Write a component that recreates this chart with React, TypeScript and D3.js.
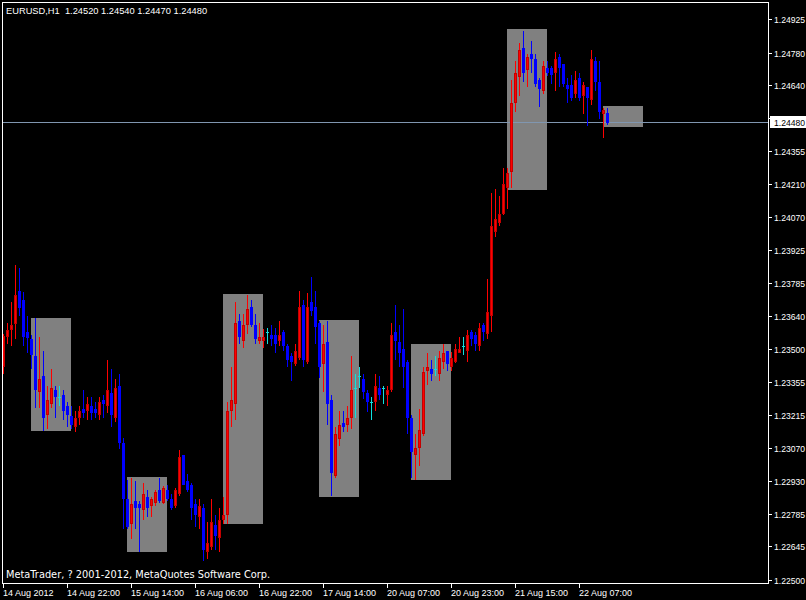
import * as React from "react";
import * as d3 from "d3";

// EURUSD H1 bars, 14 Aug 2012 06:00 onwards
const opens = [
  1.23425, 1.23554, 1.23585, 1.23611, 1.23749, 1.23710, 1.23572, 1.23541, 1.23468, 1.23317,
  1.23382, 1.23217, 1.23265, 1.23321, 1.23291, 1.23300, 1.23252, 1.23209, 1.23166, 1.23205,
  1.23239, 1.23235, 1.23252, 1.23239, 1.23217, 1.23278, 1.23256, 1.23308, 1.23205, 1.23338,
  1.23092, 1.22850, 1.22747, 1.22842, 1.22829, 1.22807, 1.22859, 1.22824, 1.22837, 1.22889,
  1.22837, 1.22889, 1.22850, 1.22824, 1.22876, 1.23040, 1.22928, 1.22911, 1.22829, 1.22777,
  1.22811, 1.22626, 1.22647, 1.22738, 1.22686, 1.22764, 1.22785, 1.23235, 1.23265, 1.23619,
  1.23537, 1.23606, 1.23680, 1.23602, 1.23537, 1.23537, 1.23572, 1.23559, 1.23559, 1.23537,
  1.23572, 1.23511, 1.23468, 1.23438, 1.23464, 1.23688, 1.23446, 1.23701, 1.23680, 1.23611,
  1.23438, 1.23528, 1.23278, 1.22954, 1.23114, 1.23179, 1.23174, 1.23205, 1.23330, 1.23382,
  1.23369, 1.23308, 1.23269, 1.23274, 1.23330, 1.23330, 1.23304, 1.23325, 1.23572, 1.23528,
  1.23498, 1.23442, 1.23200, 1.23045, 1.23075, 1.23135, 1.23408, 1.23412, 1.23412, 1.23395,
  1.23446, 1.23490, 1.23425, 1.23446, 1.23485, 1.23511, 1.23494, 1.23572, 1.23559, 1.23515,
  1.23602, 1.23567, 1.23645, 1.24008, 1.24047, 1.24086, 1.24198, 1.24268, 1.24566, 1.24679,
  1.24800, 1.24709, 1.24774, 1.24752, 1.24661, 1.24618, 1.24713, 1.24713, 1.24696, 1.24761,
  1.24730, 1.24640, 1.24640, 1.24605, 1.24670, 1.24597, 1.24631, 1.24579, 1.24743, 1.24653,
  1.24519, 1.24520,
];
const highs = [
  1.23563, 1.23611, 1.23701, 1.23861, 1.23848, 1.23745, 1.23641, 1.23559, 1.23632, 1.23550,
  1.23490, 1.23338, 1.23412, 1.23338, 1.23338, 1.23321, 1.23269, 1.23252, 1.23230, 1.23252,
  1.23321, 1.23291, 1.23291, 1.23269, 1.23291, 1.23300, 1.23451, 1.23412, 1.23369, 1.23390,
  1.23114, 1.22932, 1.22941, 1.22928, 1.22842, 1.22919, 1.22889, 1.22859, 1.22889, 1.22941,
  1.22906, 1.22911, 1.22872, 1.22898, 1.23062, 1.23040, 1.22958, 1.22919, 1.22850, 1.22850,
  1.22829, 1.22751, 1.22850, 1.22781, 1.22811, 1.22859, 1.23269, 1.23421, 1.23701, 1.23649,
  1.23649, 1.23732, 1.23710, 1.23649, 1.23611, 1.23585, 1.23589, 1.23602, 1.23589, 1.23619,
  1.23580, 1.23520, 1.23481, 1.23520, 1.23749, 1.23710, 1.23740, 1.23809, 1.23749, 1.23619,
  1.23602, 1.23619, 1.23300, 1.23161, 1.23230, 1.23230, 1.23252, 1.23468, 1.23390, 1.23421,
  1.23390, 1.23321, 1.23291, 1.23390, 1.23382, 1.23338, 1.23338, 1.23611, 1.23688, 1.23602,
  1.23671, 1.23451, 1.23213, 1.23131, 1.23239, 1.23421, 1.23481, 1.23451, 1.23468, 1.23490,
  1.23520, 1.23490, 1.23485, 1.23520, 1.23550, 1.23550, 1.23580, 1.23580, 1.23572, 1.23611,
  1.23611, 1.23801, 1.24172, 1.24190, 1.24159, 1.24281, 1.24281, 1.24661, 1.24743, 1.24821,
  1.24873, 1.24774, 1.24830, 1.24774, 1.24670, 1.24743, 1.24743, 1.24722, 1.24782, 1.24774,
  1.24730, 1.24670, 1.24683, 1.24700, 1.24692, 1.24653, 1.24631, 1.24791, 1.24761, 1.24743,
  1.24540, 1.24540,
];
const lows = [
  1.23395, 1.23524, 1.23515, 1.23546, 1.23645, 1.23515, 1.23485, 1.23416, 1.23248, 1.23248,
  1.23148, 1.23157, 1.23248, 1.23205, 1.23256, 1.23196, 1.23166, 1.23157, 1.23144, 1.23174,
  1.23205, 1.23196, 1.23196, 1.23205, 1.23196, 1.23205, 1.23226, 1.23166, 1.23187, 1.23071,
  1.22725, 1.22725, 1.22682, 1.22725, 1.22626, 1.22764, 1.22777, 1.22777, 1.22824, 1.22837,
  1.22833, 1.22846, 1.22807, 1.22816, 1.22868, 1.22915, 1.22885, 1.22764, 1.22734, 1.22725,
  1.22587, 1.22595, 1.22634, 1.22634, 1.22626, 1.22747, 1.22747, 1.23166, 1.23196, 1.23524,
  1.23507, 1.23567, 1.23598, 1.23524, 1.23524, 1.23507, 1.23524, 1.23515, 1.23485, 1.23515,
  1.23494, 1.23425, 1.23364, 1.23429, 1.23455, 1.23425, 1.23438, 1.23645, 1.23524, 1.23377,
  1.23317, 1.23174, 1.22868, 1.22945, 1.23084, 1.23144, 1.23144, 1.23157, 1.23205, 1.23334,
  1.23287, 1.23230, 1.23196, 1.23235, 1.23282, 1.23265, 1.23256, 1.23317, 1.23455, 1.23425,
  1.23334, 1.23135, 1.22945, 1.22936, 1.22997, 1.23127, 1.23347, 1.23364, 1.23386, 1.23364,
  1.23416, 1.23408, 1.23408, 1.23442, 1.23485, 1.23477, 1.23446, 1.23515, 1.23494, 1.23494,
  1.23537, 1.23546, 1.23576, 1.23986, 1.24034, 1.24082, 1.24107, 1.24198, 1.24527, 1.24597,
  1.24657, 1.24635, 1.24696, 1.24635, 1.24549, 1.24605, 1.24683, 1.24648, 1.24618, 1.24635,
  1.24635, 1.24566, 1.24575, 1.24588, 1.24575, 1.24519, 1.24467, 1.24558, 1.24618, 1.24497,
  1.24415, 1.24470,
];
const closes = [
  1.23554, 1.23580, 1.23602, 1.23732, 1.23680, 1.23554, 1.23550, 1.23477, 1.23325, 1.23369,
  1.23205, 1.23278, 1.23330, 1.23295, 1.23291, 1.23235, 1.23217, 1.23174, 1.23200, 1.23230,
  1.23226, 1.23261, 1.23226, 1.23226, 1.23269, 1.23265, 1.23321, 1.23217, 1.23330, 1.23097,
  1.22855, 1.22734, 1.22829, 1.22816, 1.22816, 1.22872, 1.22816, 1.22850, 1.22881, 1.22846,
  1.22898, 1.22855, 1.22816, 1.22889, 1.23032, 1.22915, 1.22894, 1.22816, 1.22785, 1.22820,
  1.22634, 1.22660, 1.22751, 1.22695, 1.22760, 1.22781, 1.23230, 1.23278, 1.23611, 1.23554,
  1.23602, 1.23671, 1.23606, 1.23546, 1.23550, 1.23550, 1.23572, 1.23546, 1.23524, 1.23559,
  1.23515, 1.23455, 1.23446, 1.23490, 1.23680, 1.23455, 1.23680, 1.23667, 1.23598, 1.23425,
  1.23520, 1.23265, 1.22967, 1.23131, 1.23170, 1.23166, 1.23200, 1.23321, 1.23330, 1.23382,
  1.23317, 1.23274, 1.23269, 1.23338, 1.23304, 1.23330, 1.23321, 1.23559, 1.23537, 1.23485,
  1.23425, 1.23205, 1.23058, 1.23071, 1.23148, 1.23399, 1.23421, 1.23395, 1.23412, 1.23459,
  1.23481, 1.23438, 1.23459, 1.23498, 1.23498, 1.23511, 1.23559, 1.23546, 1.23524, 1.23589,
  1.23576, 1.23658, 1.24030, 1.24060, 1.24082, 1.24211, 1.24260, 1.24562, 1.24692, 1.24791,
  1.24696, 1.24761, 1.24756, 1.24648, 1.24627, 1.24722, 1.24696, 1.24687, 1.24752, 1.24718,
  1.24648, 1.24627, 1.24588, 1.24661, 1.24588, 1.24640, 1.24588, 1.24752, 1.24657, 1.24527,
  1.24532, 1.24480,
];

// session boxes: [start bar, end bar, high, low]
const boxStart = [7, 31, 55, 79, 102, 126, 150];
const boxEnd = [17, 41, 65, 89, 112, 136, 160];
const boxHigh = [1.23632, 1.22945, 1.23736, 1.23624, 1.23520, 1.24882, 1.24549];
const boxLow = [1.23144, 1.22621, 1.22743, 1.22859, 1.22932, 1.24186, 1.24458];

const priceLabels = [
  "1.24925", "1.24780", "1.24640", "1.24495", "1.24355", "1.24210", "1.24070", "1.23925", "1.23785",
  "1.23640", "1.23500", "1.23355", "1.23215", "1.23070", "1.22930", "1.22785", "1.22645", "1.22500",
];
const timeLabels = [
  "14 Aug 2012", "14 Aug 22:00", "15 Aug 14:00", "16 Aug 06:00", "16 Aug 22:00",
  "17 Aug 14:00", "20 Aug 07:00", "20 Aug 23:00", "21 Aug 15:00", "22 Aug 07:00",
];
const lastPrice = 1.2448;

const W = 806;
const H = 600;
const right = 768;
const bottom = 583;
const font = "'Liberation Sans', Arial, sans-serif";

const App = () => {
  const x = d3.scaleLinear().domain([0, opens.length - 1]).range([3, 3 + 4 * (opens.length - 1)]);
  const y = d3.scaleLinear().domain([1.225, 1.24925]).range([580, 19]);
  const py = (v: number) => Math.round(y(v));

  return (
    <div style={{ position: "fixed", left: 0, top: 0 }}>
      <svg width={W} height={H} style={{ display: "block", background: "#000" }} shapeRendering="crispEdges">
        {boxStart.map((s, i) => (
          <rect key={"b" + i} x={x(s)} y={py(boxHigh[i])} width={x(boxEnd[i]) - x(s)}
            height={py(boxLow[i]) - py(boxHigh[i])} fill="#808080" />
        ))}
        <line x1={2} x2={right} y1={py(lastPrice) + 0.5} y2={py(lastPrice) + 0.5} stroke="#8096b0" />
        {opens.map((o, i) => {
          const c = closes[i];
          const cx = Math.round(x(i));
          const up = c > o;
          const doji = c === o;
          const col = doji ? "#10e0e0" : up ? "#ff0000" : "#0000ff";
          const top = py(Math.max(o, c));
          const bot = py(Math.min(o, c));
          return (
            <g key={i}>
              <rect x={cx} y={py(highs[i])} width={1} height={py(lows[i]) - py(highs[i]) + 1} fill={col} />
              {doji ? (
                <rect x={cx - 1} y={top} width={3} height={1} fill={col} />
              ) : (
                <rect x={cx - 1} y={top} width={3} height={bot - top + 1} fill={col} />
              )}
              {up && bot - top >= 2 && (
                <rect x={cx - 0.5} y={top + 0.5} width={2} height={bot - top} fill="none" stroke="#c40000" />
              )}
            </g>
          );
        })}
        {/* frame */}
        <rect x={2.5} y={2.5} width={right - 2} height={bottom - 2} fill="none" stroke="#fff" />
        {priceLabels.map((t) => (
          <g key={t}>
            <line x1={right} x2={right + 4} y1={py(+t) + 0.5} y2={py(+t) + 0.5} stroke="#fff" />
            <text x={774} y={py(+t) + 4} fill="#fff" fontSize={8.6} fontFamily={font}>{t}</text>
          </g>
        ))}
        <rect x={770} y={py(lastPrice) - 6} width={36} height={12} fill="#fff" />
        <text x={774} y={py(lastPrice) + 4} fill="#000" fontSize={8.6} fontFamily={font}>
          {lastPrice.toFixed(5)}
        </text>
        {timeLabels.map((t, k) => {
          const tx = Math.round(x(k * 16));
          return (
            <g key={t}>
              <line x1={tx + 0.5} x2={tx + 0.5} y1={bottom} y2={bottom + 5} stroke="#fff" />
              <text x={tx} y={596} fill="#fff" fontSize={9} fontFamily={font}>{t}</text>
            </g>
          );
        })}
        <text x={6} y={14} fill="#fff" fontSize={9.3} fontFamily={font} xmlSpace="preserve">
          {"EURUSD,H1  1.24520 1.24540 1.24470 1.24480"}
        </text>
        <text x={6} y={578} fill="#fff" fontSize={9.8} fontFamily="'DejaVu Sans', sans-serif">
          MetaTrader, ? 2001-2012, MetaQuotes Software Corp.
        </text>
      </svg>
    </div>
  );
};

export default App;
